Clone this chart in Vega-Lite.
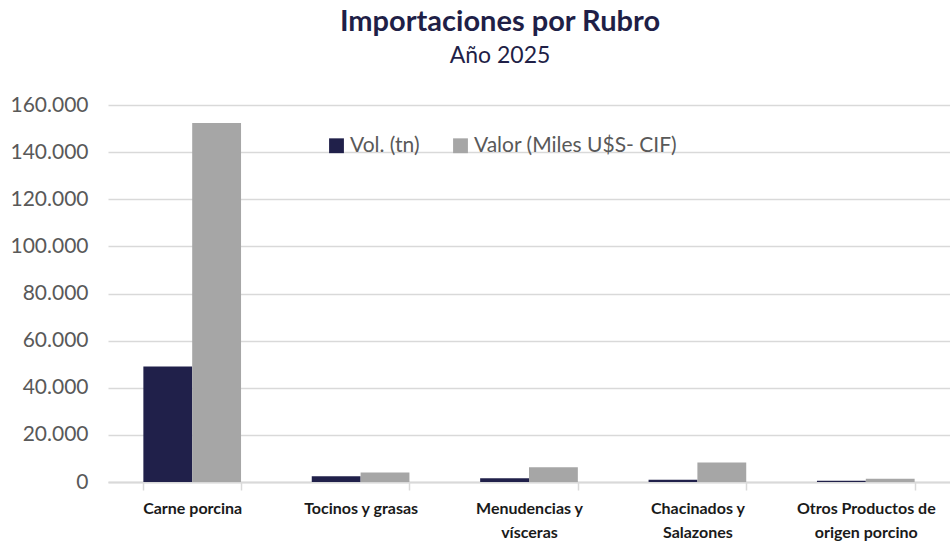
{
  "$schema": "https://vega.github.io/schema/vega-lite/v6.json",
  "width": 842,
  "height": 377,
  "autosize": {"type": "none"},
  "padding": {"left": 108, "top": 105, "right": 0, "bottom": 60},
  "background": "white",
  "title": {
    "text": "Importaciones por Rubro",
    "subtitle": "Año 2025",
    "anchor": "middle",
    "frame": "group",
    "dx": -29,
    "offset": 26,
    "font": "Lato",
    "fontSize": 29,
    "fontWeight": "bold",
    "color": "#1F1F47",
    "subtitleFont": "Lato",
    "subtitleFontSize": 23,
    "subtitleColor": "#1F1F47",
    "subtitlePadding": 8
  },
  "data": {
    "values": [
      {"rubro": "Carne porcina", "serie": "Vol. (tn)", "valor": 49000},
      {"rubro": "Carne porcina", "serie": "Valor (Miles U$S- CIF)", "valor": 152400},
      {"rubro": "Tocinos y grasas", "serie": "Vol. (tn)", "valor": 2430},
      {"rubro": "Tocinos y grasas", "serie": "Valor (Miles U$S- CIF)", "valor": 4000},
      {"rubro": "Menudencias y vísceras", "serie": "Vol. (tn)", "valor": 1570},
      {"rubro": "Menudencias y vísceras", "serie": "Valor (Miles U$S- CIF)", "valor": 6290},
      {"rubro": "Chacinados y Salazones", "serie": "Vol. (tn)", "valor": 1000},
      {"rubro": "Chacinados y Salazones", "serie": "Valor (Miles U$S- CIF)", "valor": 8290},
      {"rubro": "Otros Productos de origen porcino", "serie": "Vol. (tn)", "valor": 570},
      {"rubro": "Otros Productos de origen porcino", "serie": "Valor (Miles U$S- CIF)", "valor": 1430}
    ]
  },
  "mark": {"type": "bar"},
  "encoding": {
    "x": {
      "field": "rubro",
      "type": "nominal",
      "sort": null,
      "scale": {"paddingInner": 0.42, "paddingOuter": 0.21},
      "axis": {
        "title": null,
        "labelAngle": 0,
        "tickBand": "extent",
        "domainColor": "#D9D9D9",
        "domainWidth": 2,
        "tickColor": "#D9D9D9",
        "tickWidth": 1.5,
        "tickSize": 8,
        "labelFont": "Lato",
        "labelFontSize": 16,
        "labelFontWeight": "bold",
        "labelColor": "#1A1A1A",
        "labelPadding": 10,
        "labelLineHeight": 24,
        "labelLimit": 0,
        "labelExpr": "datum.value == 'Menudencias y vísceras' ? ['Menudencias y', 'vísceras'] : datum.value == 'Chacinados y Salazones' ? ['Chacinados y', 'Salazones'] : datum.value == 'Otros Productos de origen porcino' ? ['Otros Productos de', 'origen porcino'] : datum.value"
      }
    },
    "xOffset": {"field": "serie", "type": "nominal", "sort": ["Vol. (tn)", "Valor (Miles U$S- CIF)"], "scale": {"paddingInner": 0}},
    "y": {
      "field": "valor",
      "type": "quantitative",
      "scale": {"domain": [0, 160000]},
      "axis": {
        "title": null,
        "values": [0, 20000, 40000, 60000, 80000, 100000, 120000, 140000, 160000],
        "domain": false,
        "ticks": false,
        "grid": true,
        "gridColor": "#D9D9D9",
        "gridWidth": 1.5,
        "labelFont": "Lato",
        "labelFontSize": 21,
        "labelColor": "#595959",
        "labelPadding": 20,
        "labelExpr": "replace(format(datum.value, ','), /,/g, '.')"
      }
    },
    "color": {
      "field": "serie",
      "type": "nominal",
      "sort": ["Vol. (tn)", "Valor (Miles U$S- CIF)"],
      "scale": {"domain": ["Vol. (tn)", "Valor (Miles U$S- CIF)"], "range": ["#20204A", "#A6A6A6"]},
      "legend": {
        "title": null,
        "orient": "none",
        "direction": "horizontal",
        "legendX": 218,
        "legendY": 30,
        "symbolType": "square",
        "symbolSize": 220,
        "symbolStrokeWidth": 0,
        "labelFont": "Lato",
        "labelFontSize": 21,
        "labelColor": "#595959",
        "labelOffset": 3,
        "labelLimit": 0,
        "columnPadding": 30
      }
    }
  },
  "config": {"view": {"stroke": null}}
}
